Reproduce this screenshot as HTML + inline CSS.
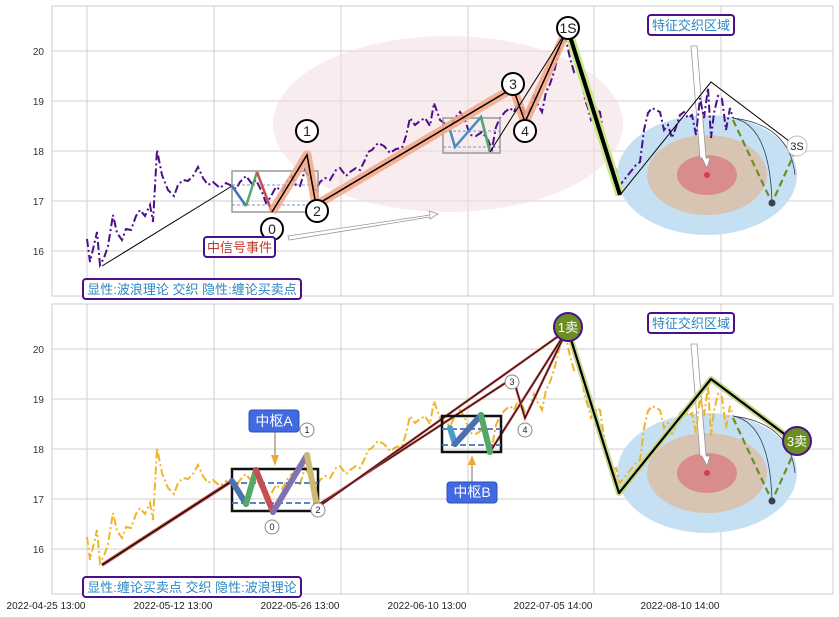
<!DOCTYPE html>
<html><head><meta charset="utf-8"><style>
html,body{margin:0;padding:0;background:#fff;}
svg{display:block;font-family:"Liberation Sans","Noto Sans CJK SC",sans-serif;}
</style></head><body>
<svg width="839" height="617" viewBox="0 0 839 617" xmlns="http://www.w3.org/2000/svg">
<defs>
<path id="price" fill="none" d="M87,239 L90,262 94,245 97,232 100,265 104,258 108,246 113,215 117,233 122,240 126,229 131,230 136,216 140,210 145,216 150,205 153,222 157,150 162,175 168,190 174,196 178,185 183,180 188,181 193,176 198,167 203,178 208,185 213,182 220,188 226,183 232,186 236,189 240,182 246,176 252,184 256,180 262,192 266,203 270,198 276,187 282,191 288,180 292,176 296,185 300,186 305,170 310,178 315,192 320,182 325,178 330,180 336,170 340,168 346,176 350,172 356,168 360,170 365,160 368,152 372,150 378,143 384,146 390,153 396,149 402,148 406,136 410,118 415,125 420,121 425,118 430,126 434,103 440,120 444,123 450,128 455,118 460,112 465,120 470,135 476,136 482,132 488,140 492,149 496,127 500,118 505,112 510,108 514,112 518,103 522,106 526,118 530,108 534,96 538,105 542,112 546,92 550,84 554,72 558,56 562,38 566,40 570,58 574,72 578,68 582,80 585,100 588,108 591,120 594,117 597,110 600,112 603,132 606,148 609,165 612,172 616,170 620,185 624,180 628,175 632,170 636,165 640,162 644,130 648,113 652,108 656,110 660,112 664,130 668,125 672,138 676,127 680,115 684,112 688,118 692,115 696,135 700,98 704,118 708,88 711,138 714,113 718,96 722,99 726,130 730,108 733,118"/>
<g id="grid" stroke="#cfcfcf" stroke-width="1">
<line x1="87" y1="6" x2="87" y2="296"/><line x1="214" y1="6" x2="214" y2="296"/><line x1="341" y1="6" x2="341" y2="296"/><line x1="468" y1="6" x2="468" y2="296"/><line x1="594" y1="6" x2="594" y2="296"/><line x1="721" y1="6" x2="721" y2="296"/>
<line x1="52" y1="51" x2="833" y2="51"/><line x1="52" y1="101" x2="833" y2="101"/><line x1="52" y1="151" x2="833" y2="151"/><line x1="52" y1="201" x2="833" y2="201"/><line x1="52" y1="251" x2="833" y2="251"/>
</g>
<g id="ell">
<ellipse cx="707" cy="175" rx="90" ry="60" fill="#c6e0f3"/>
<ellipse cx="707" cy="175" rx="60" ry="40" fill="#d8c4b2"/>
<ellipse cx="707" cy="175" rx="30" ry="20" fill="#d98c8e"/>
<circle cx="707" cy="175" r="3" fill="#d6404a"/>
<path d="M733,118 Q770,125 772,203" fill="none" stroke="#333a55" stroke-width="0.8"/>
<path d="M733,118 Q790,125 795,175" fill="none" stroke="#333a55" stroke-width="0.8"/>
<polyline points="733,120 772,203 795,152" fill="none" stroke="#6b8e23" stroke-width="2.2" stroke-dasharray="7,4"/>
<circle cx="772" cy="203" r="3.5" fill="#3a4150"/>
<polygon points="691,46 697,46 706,158 710,158 707,168 702,158 700,158" fill="#fff" stroke="#999" stroke-width="0.8"/>
</g>
</defs>

<!-- TOP PANEL -->
<rect x="52" y="6" width="781" height="290" fill="#fff" stroke="#ccc"/>
<use href="#grid"/>
<ellipse cx="448" cy="124" rx="175" ry="88" fill="#f3dde2" opacity="0.55"/>
<use href="#ell"/>
<use href="#price" stroke="#4b0f8c" stroke-width="2" stroke-dasharray="8,3,2,3"/>
<line x1="102" y1="266" x2="232" y2="186" stroke="#000" stroke-width="1"/>
<rect x="232" y="171" width="86" height="41" fill="none" stroke="#999" stroke-width="1.5"/>
<line x1="232" y1="185" x2="318" y2="185" stroke="#5577aa" stroke-dasharray="3,2" stroke-width="0.8"/>
<line x1="232" y1="205" x2="318" y2="205" stroke="#5577aa" stroke-dasharray="3,2" stroke-width="0.8"/>
<polyline points="232,186 246,206" stroke="#4a72b0" stroke-width="2.5" fill="none"/>
<polyline points="246,206 257,172" stroke="#55a868" stroke-width="2.5" fill="none"/>
<polyline points="257,172 272,212" stroke="#c44e52" stroke-width="2.5" fill="none"/>
<rect x="443" y="118" width="57" height="35" fill="none" stroke="#999" stroke-width="1.5"/>
<line x1="443" y1="131" x2="500" y2="131" stroke="#5577aa" stroke-dasharray="3,2" stroke-width="0.8"/>
<line x1="443" y1="147" x2="500" y2="147" stroke="#5577aa" stroke-dasharray="3,2" stroke-width="0.8"/>
<polyline points="450,130 455,147 481,117 490,152" stroke="#4a8cc0" stroke-width="2.5" fill="none"/>
<line x1="481" y1="117" x2="490" y2="152" stroke="#55a868" stroke-width="2.5"/>
<polyline points="272,212 307,155 316,205 513,88 525,122 567,30" fill="none" stroke="#f4a582" stroke-width="9" stroke-linejoin="round" opacity="0.85"/>
<polyline points="272,212 307,155 316,205 513,88 525,122 567,30" fill="none" stroke="#000" stroke-width="1.5"/>
<line x1="490" y1="152" x2="567" y2="30" stroke="#000" stroke-width="1"/>
<line x1="568" y1="30" x2="620" y2="195" stroke="#c8e88a" stroke-width="9"/>
<line x1="568" y1="30" x2="620" y2="195" stroke="#000" stroke-width="4"/>
<polyline points="620,195 711,82 797,147" fill="none" stroke="#000" stroke-width="1"/>
<polygon points="288,236 430,215 429,211 438,214 430,219 430,217 289,240" fill="#fff" stroke="#999" stroke-width="0.8"/>
<g fill="#fff" stroke="#000" stroke-width="2" font-size="14" text-anchor="middle">
<circle cx="272" cy="229" r="11"/><circle cx="307" cy="131" r="11"/><circle cx="317" cy="211" r="11"/><circle cx="513" cy="84" r="11"/><circle cx="525" cy="131" r="11"/><circle cx="568" cy="28" r="11"/>
</g>
<g font-size="14" text-anchor="middle" fill="#222">
<text x="272" y="234">0</text><text x="307" y="136">1</text><text x="317" y="216">2</text><text x="513" y="89">3</text><text x="525" y="136">4</text><text x="568" y="33">1S</text>
</g>
<circle cx="797" cy="146" r="10" fill="#fff" stroke="#bbb"/>
<text x="797" y="150" font-size="11" text-anchor="middle" fill="#222">3S</text>
<rect x="204" y="237" width="71" height="20" rx="3" fill="#fff" stroke="#4b0f8c" stroke-width="2"/>
<text x="239.5" y="252" font-size="13" text-anchor="middle" fill="#c0392b">中信号事件</text>
<rect x="648" y="15" width="86" height="20" rx="3" fill="#fff" stroke="#4b0f8c" stroke-width="2"/>
<text x="691" y="30" font-size="13" text-anchor="middle" fill="#2e86c1">特征交织区域</text>
<rect x="83" y="279" width="218" height="20" rx="3" fill="#fff" stroke="#4b0f8c" stroke-width="2"/>
<text x="192" y="294" font-size="13" text-anchor="middle" fill="#2e86c1">显性:波浪理论 交织 隐性:缠论买卖点</text>
<g font-size="10" fill="#333" text-anchor="end">
<text x="44" y="55">20</text><text x="44" y="105">19</text><text x="44" y="155">18</text><text x="44" y="205">17</text><text x="44" y="255">16</text>
</g>

<!-- BOTTOM PANEL -->
<g transform="translate(0,298)">
<rect x="52" y="6" width="781" height="290" fill="#fff" stroke="#ccc"/>
<use href="#grid"/>
<use href="#ell"/>
<use href="#price" stroke="#f0b429" stroke-width="2" stroke-dasharray="8,3,2,3"/>
<g font-size="10" fill="#333" text-anchor="end">
<text x="44" y="55">20</text><text x="44" y="105">19</text><text x="44" y="155">18</text><text x="44" y="205">17</text><text x="44" y="255">16</text>
</g>
</g>
<polyline points="102,565 232,481" stroke="#c0504d" stroke-width="3.5" fill="none"/>
<polyline points="102,565 232,481" stroke="#000" stroke-width="1.2" fill="none"/>
<polyline points="318,505 513,378 525,418 567,330" stroke="#c0504d" stroke-width="2.5" fill="none"/>
<polyline points="318,505 513,378 525,418 567,330" stroke="#000" stroke-width="0.8" fill="none"/>
<line x1="318" y1="507" x2="567" y2="330" stroke="#c0504d" stroke-width="2.5"/>
<line x1="318" y1="507" x2="567" y2="330" stroke="#000" stroke-width="0.8"/>
<line x1="490" y1="452" x2="567" y2="330" stroke="#c0504d" stroke-width="2.5"/>
<line x1="490" y1="452" x2="567" y2="330" stroke="#000" stroke-width="0.8"/>
<rect x="232" y="469" width="86" height="42" fill="none" stroke="#111" stroke-width="2.5"/>
<line x1="232" y1="483" x2="318" y2="483" stroke="#4472c4" stroke-dasharray="6,3" stroke-width="1.8"/>
<line x1="232" y1="503" x2="318" y2="503" stroke="#4472c4" stroke-dasharray="6,3" stroke-width="1.8"/>
<g stroke-width="6" stroke-linecap="round" fill="none">
<line x1="232" y1="481" x2="246" y2="504" stroke="#4a72b0"/>
<line x1="246" y1="504" x2="256" y2="470" stroke="#55a868"/>
<line x1="256" y1="470" x2="273" y2="512" stroke="#c44e52"/>
<line x1="273" y1="512" x2="307" y2="455" stroke="#8172b2"/>
<line x1="307" y1="455" x2="317" y2="506" stroke="#ccb974"/>
</g>
<rect x="442" y="416" width="59" height="36" fill="none" stroke="#111" stroke-width="2.5"/>
<line x1="442" y1="429" x2="501" y2="429" stroke="#4472c4" stroke-dasharray="6,3" stroke-width="1.8"/>
<line x1="442" y1="445" x2="501" y2="445" stroke="#4472c4" stroke-dasharray="6,3" stroke-width="1.8"/>
<g stroke-width="6" stroke-linecap="round" fill="none">
<line x1="450" y1="428" x2="455" y2="444" stroke="#4a9fc8"/>
<line x1="455" y1="444" x2="481" y2="415" stroke="#4a72b0"/>
<line x1="481" y1="415" x2="490" y2="452" stroke="#55a868"/>
</g>
<polyline points="568,330 619,493 711,379 787,436" fill="none" stroke="#c8d88a" stroke-width="6" stroke-linejoin="round"/>
<polyline points="568,330 619,493 711,379 787,436" fill="none" stroke="#000" stroke-width="2.2" stroke-linejoin="round"/>
<line x1="275" y1="432" x2="275" y2="458" stroke="#8b6a50" stroke-width="1"/>
<polygon points="271,455 279,455 275,466" fill="#f0a830"/>
<line x1="472" y1="484" x2="472" y2="462" stroke="#8b6a50" stroke-width="1"/>
<polygon points="468,465 476,465 472,455" fill="#f0a830"/>
<rect x="249" y="410" width="50" height="22" rx="3" fill="#4169e1" stroke="#3050b0"/>
<text x="274" y="426" font-size="14" text-anchor="middle" fill="#fff">中枢A</text>
<rect x="447" y="482" width="50" height="21" rx="3" fill="#4169e1" stroke="#3050b0"/>
<text x="472" y="497" font-size="14" text-anchor="middle" fill="#fff">中枢B</text>
<g fill="#fff" stroke="#888" stroke-width="1">
<circle cx="307" cy="430" r="7"/><circle cx="272" cy="527" r="7"/><circle cx="318" cy="510" r="7"/><circle cx="512" cy="382" r="7"/><circle cx="525" cy="430" r="7"/>
</g>
<g font-size="9" text-anchor="middle" fill="#222">
<text x="307" y="433">1</text><text x="272" y="530">0</text><text x="318" y="513">2</text><text x="512" y="385">3</text><text x="525" y="433">4</text>
</g>
<circle cx="568" cy="327" r="14" fill="#6b8e23" stroke="#4b0f8c" stroke-width="2"/>
<text x="568" y="332" font-size="13" text-anchor="middle" fill="#fff">1卖</text>
<circle cx="797" cy="441" r="14" fill="#6b8e23" stroke="#4b0f8c" stroke-width="2"/>
<text x="797" y="446" font-size="13" text-anchor="middle" fill="#fff">3卖</text>
<rect x="648" y="313" width="86" height="20" rx="3" fill="#fff" stroke="#4b0f8c" stroke-width="2"/>
<text x="691" y="328" font-size="13" text-anchor="middle" fill="#2e86c1">特征交织区域</text>
<rect x="83" y="577" width="218" height="20" rx="3" fill="#fff" stroke="#4b0f8c" stroke-width="2"/>
<text x="192" y="592" font-size="13" text-anchor="middle" fill="#2e86c1">显性:缠论买卖点 交织 隐性:波浪理论</text>
<g font-size="10" fill="#222" text-anchor="middle">
<text x="46" y="609">2022-04-25 13:00</text><text x="173" y="609">2022-05-12 13:00</text><text x="300" y="609">2022-05-26 13:00</text><text x="427" y="609">2022-06-10 13:00</text><text x="553" y="609">2022-07-05 14:00</text><text x="680" y="609">2022-08-10 14:00</text>
</g>
</svg>
</body></html>
